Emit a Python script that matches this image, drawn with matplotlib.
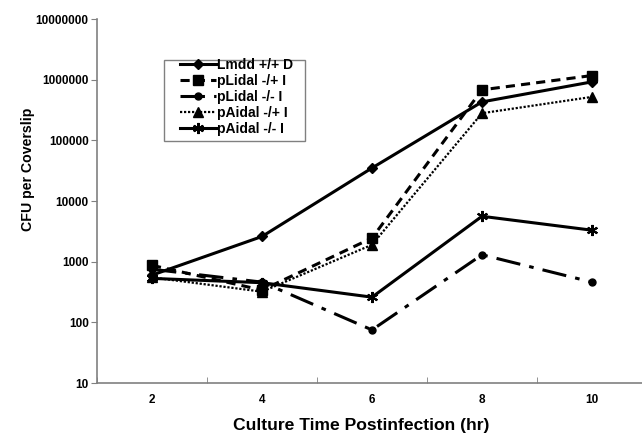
import numpy as np
import matplotlib.pyplot as plt
from matplotlib.patches import Rectangle
from matplotlib.ticker import FixedLocator, NullFormatter

plt.rcParams['font.family'] = ['Liberation Sans', 'DejaVu Sans']
plt.rcParams['font.weight'] = 'bold'

# culture time (hr)
hours = [2, 4, 6, 8, 10]

# CFU per coverslip
lmdd_pp_D = [600, 2600, 35000, 430000, 920000]
plidal_mp_I = [870, 340, 2450, 680000, 1170000]
plidal_mm_I = [750, 460, 75, 1300, 460]
paidal_mp_I = [550, 320, 1900, 280000, 520000]
paidal_mm_I = [530, 450, 260, 5600, 3300]

labels = ["Lmdd +/+ D", "pLidal -/+ I", "pLidal -/- I", "pAidal -/+ I", "pAidal -/- I"]
y_ticks = [10, 100, 1000, 10000, 100000, 1000000, 10000000]

fig = plt.figure(figsize=(6.42, 4.36), dpi=100)
ax = fig.add_axes([97 / 642, 53 / 436, 550 / 642, 364 / 436])

ax.plot(hours, lmdd_pp_D, color="black", lw=2.2, marker="D", ms=5, label=labels[0])
ax.plot(hours, plidal_mp_I, color="black", lw=2.2, ls=(0, (3, 2)), marker="s", ms=7,
        label=labels[1])
ax.plot(hours, plidal_mm_I, color="black", lw=2.2, ls=(0, (8, 3, 1.5, 3)), marker="o", ms=5,
        label=labels[2])
ax.plot(hours, paidal_mp_I, color="black", lw=1.6, ls=(0, (1, 0.8)), marker="^", ms=7,
        label=labels[3])
ax.plot(hours, paidal_mm_I, color="black", lw=2.2, marker=(6, 2, 0), ms=8, mew=1.5,
        label=labels[4])

ax.set_yscale("log")
ax.set_ylim(10, 10000000)
ax.set_xlim(1, 11)
ax.yaxis.set_major_locator(FixedLocator(y_ticks))
ax.set_yticklabels([str(v) for v in y_ticks])
ax.yaxis.set_minor_locator(FixedLocator([]))
ax.set_xticks(hours)
ax.set_xticklabels([str(h) for h in hours])
ax.xaxis.set_minor_locator(FixedLocator([1, 3, 5, 7, 9, 11]))
ax.xaxis.set_minor_formatter(NullFormatter())
ax.tick_params(axis="x", which="major", length=0, pad=8, labelsize=8.5)
ax.tick_params(axis="x", which="minor", length=4, direction="in", color="#808080")
ax.tick_params(axis="y", which="major", length=4, color="#808080", labelsize=8.5, pad=2)

for s in ["top", "right"]:
    ax.spines[s].set_visible(False)
for s in ["left", "bottom"]:
    ax.spines[s].set_color("#808080")
    ax.spines[s].set_linewidth(1.2)

ax.set_xlabel("Culture Time Postinfection (hr)", fontsize=12.6, fontweight="bold")
ax.set_ylabel("CFU per Coverslip", fontsize=10.2, fontweight="bold")
ax.xaxis.set_label_coords(264 / 550, -35 / 364)
ax.yaxis.set_label_coords(-62 / 550, 214 / 364)

# legend frame drawn separately (wider than matplotlib's own padding)
ax.add_patch(Rectangle((67 / 550, 242 / 364), 141 / 550, 81 / 364, transform=ax.transAxes,
                       fill=False, edgecolor="#808080", lw=1.0, zorder=5, clip_on=False))
leg = ax.legend(loc="upper left", bbox_to_anchor=(83 / 550, 1 - 39 / 364), frameon=False,
                fontsize=10, handlelength=2.6, handletextpad=0.05, labelspacing=0.15,
                borderpad=0, borderaxespad=0)

fig.savefig("out.png", dpi=100)
